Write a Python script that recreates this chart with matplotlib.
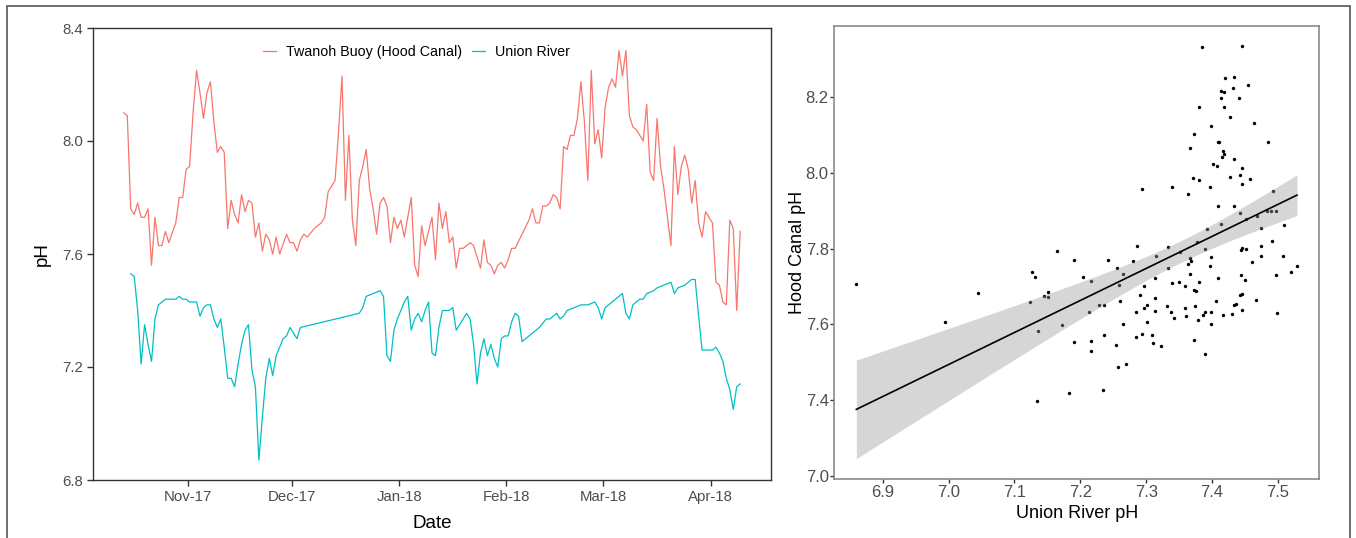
import numpy as np
import pandas as pd
import matplotlib
matplotlib.use("Agg")
import matplotlib.pyplot as plt
import matplotlib.dates as mdates
from matplotlib.patches import Rectangle

plt.rcParams['font.family'] = ['Liberation Sans', 'DejaVu Sans']

# --- time series (days after 2017-10-13 12:00) ---
start = pd.Timestamp("2017-10-13 12:00")

red_day = [0, 1, 2, 3, 4, 5, 6, 7, 8, 9, 10, 11, 12, 13, 15, 16, 17, 18, 19, 20,
           21, 22, 23, 24, 25, 26, 27, 28, 29, 30, 31, 32, 33, 34, 35, 36, 37, 38, 39, 40,
           41, 42, 43, 44, 45, 47, 48, 49, 50, 51, 52, 53, 55, 57, 58, 59, 61, 62, 63, 64,
           65, 66, 67, 68, 69, 70, 71, 72, 73, 74, 75, 76, 77, 78, 79, 80, 81, 83, 84, 85,
           86, 87, 89, 90, 91, 92, 93, 94, 95, 96, 97, 98, 100, 101, 103, 104, 105, 106, 107, 108,
           109, 110, 111, 112, 113, 115, 117, 118, 119, 120, 121, 122, 123, 124, 125, 126, 127, 128, 129, 130,
           131, 132, 133, 134, 135, 136, 137, 138, 139, 140, 141, 142, 143, 144, 145, 146, 147, 148, 149, 150,
           151, 152, 153, 154, 155, 156, 157, 158, 159, 160, 161, 162, 163, 164, 165, 166, 167, 168, 169, 170,
           171, 172, 173, 174, 175, 176, 177, 178]
red_ph = [8.10, 8.09, 7.76, 7.74, 7.78, 7.73, 7.73, 7.76, 7.56, 7.73, 7.63, 7.63, 7.68, 7.64, 7.71, 7.80, 7.80, 7.90, 7.91, 8.10,
          8.25, 8.17, 8.08, 8.17, 8.21, 8.07, 7.96, 7.98, 7.96, 7.69, 7.79, 7.74, 7.71, 7.81, 7.75, 7.79, 7.78, 7.66, 7.71, 7.61,
          7.67, 7.65, 7.60, 7.66, 7.60, 7.67, 7.64, 7.64, 7.61, 7.65, 7.67, 7.66, 7.69, 7.71, 7.73, 7.82, 7.86, 8.03, 8.23, 7.79,
          8.02, 7.72, 7.63, 7.86, 7.91, 7.97, 7.83, 7.76, 7.67, 7.78, 7.80, 7.77, 7.64, 7.73, 7.69, 7.72, 7.66, 7.80, 7.56, 7.52,
          7.70, 7.63, 7.73, 7.58, 7.78, 7.69, 7.75, 7.64, 7.66, 7.55, 7.62, 7.62, 7.64, 7.63, 7.55, 7.65, 7.57, 7.56, 7.53, 7.56,
          7.57, 7.55, 7.58, 7.62, 7.62, 7.67, 7.72, 7.76, 7.71, 7.71, 7.77, 7.77, 7.78, 7.81, 7.80, 7.76, 7.98, 7.97, 8.02, 8.02,
          8.08, 8.21, 8.07, 7.86, 8.25, 7.99, 8.04, 7.94, 8.12, 8.19, 8.22, 8.19, 8.32, 8.23, 8.32, 8.09, 8.05, 8.04, 8.02, 8.00,
          8.13, 7.89, 7.86, 8.08, 7.91, 7.83, 7.73, 7.63, 7.98, 7.81, 7.91, 7.95, 7.90, 7.78, 7.86, 7.71, 7.66, 7.75, 7.73, 7.71,
          7.50, 7.49, 7.43, 7.42, 7.72, 7.69, 7.40, 7.68]

blue_day = [2, 3, 4, 5, 6, 7, 8, 9, 10, 11, 12, 13, 14, 15, 16, 17, 18, 19, 20, 21,
            22, 23, 24, 25, 26, 27, 28, 29, 30, 31, 32, 33, 34, 35, 36, 37, 38, 39, 40, 41,
            42, 43, 44, 45, 46, 47, 48, 49, 50, 51, 68, 69, 70, 72, 74, 75, 76, 77, 78, 79,
            80, 81, 82, 83, 84, 85, 86, 87, 88, 89, 90, 91, 92, 93, 94, 95, 96, 97, 98, 99,
            100, 101, 102, 103, 104, 105, 106, 107, 108, 109, 110, 111, 112, 113, 114, 115, 116, 118, 120, 122,
            123, 124, 125, 126, 127, 128, 130, 132, 134, 136, 137, 138, 139, 141, 143, 144, 145, 146, 147, 149,
            150, 151, 153, 154, 156, 158, 159, 160, 162, 163, 164, 165, 166, 167, 168, 169, 170, 171, 172, 173,
            174, 175, 176, 177, 178]
blue_ph = [7.53, 7.52, 7.40, 7.21, 7.35, 7.28, 7.22, 7.37, 7.42, 7.43, 7.44, 7.44, 7.44, 7.44, 7.45, 7.44, 7.44, 7.43, 7.43, 7.43,
           7.38, 7.41, 7.42, 7.42, 7.37, 7.34, 7.37, 7.27, 7.16, 7.16, 7.13, 7.21, 7.28, 7.33, 7.35, 7.19, 7.13, 6.87, 7.02, 7.16,
           7.23, 7.17, 7.24, 7.27, 7.30, 7.31, 7.34, 7.32, 7.30, 7.34, 7.39, 7.41, 7.45, 7.46, 7.47, 7.45, 7.24, 7.22, 7.33, 7.37,
           7.40, 7.43, 7.45, 7.33, 7.37, 7.39, 7.36, 7.40, 7.43, 7.25, 7.24, 7.34, 7.40, 7.40, 7.40, 7.41, 7.33, 7.35, 7.37, 7.39,
           7.37, 7.28, 7.14, 7.25, 7.30, 7.24, 7.28, 7.23, 7.20, 7.30, 7.31, 7.31, 7.36, 7.39, 7.38, 7.29, 7.30, 7.32, 7.34, 7.37,
           7.37, 7.38, 7.39, 7.37, 7.38, 7.40, 7.41, 7.42, 7.42, 7.43, 7.41, 7.37, 7.41, 7.43, 7.45, 7.46, 7.39, 7.37, 7.42, 7.44,
           7.44, 7.46, 7.47, 7.48, 7.49, 7.50, 7.46, 7.48, 7.49, 7.50, 7.51, 7.51, 7.38, 7.26, 7.26, 7.26, 7.26, 7.27, 7.25, 7.22,
           7.16, 7.12, 7.05, 7.13, 7.14]

# --- scatter: Union River pH vs Hood Canal pH ---
union_ph = [7.385, 7.445, 7.420, 7.433, 7.413, 7.418, 7.432, 7.454, 7.414, 7.441,
            7.380, 7.418, 7.427, 7.464, 7.398, 7.373, 7.409, 7.411, 7.485, 7.367,
            7.417, 7.418, 7.415, 7.434, 7.402, 7.407, 7.445, 7.443, 7.427, 7.458,
            7.371, 7.381, 7.397, 7.446, 7.293, 7.339, 7.364, 7.409, 7.433, 7.493,
            7.443, 7.452, 7.392, 7.413, 7.377, 7.483, 7.489, 7.497, 7.474, 7.509,
            7.468, 7.390, 7.333, 7.286, 7.352, 7.315, 7.366, 7.368, 7.364, 7.399,
            7.445, 7.444, 7.451, 7.475, 7.491, 7.460, 7.474, 7.508, 7.529, 7.520,
            7.497, 7.499, 7.467, 7.444, 7.450, 7.443, 7.445, 7.436, 7.434, 7.446,
            7.430, 7.417, 7.398, 7.399, 7.406, 7.409, 7.397, 7.389, 7.386, 7.378,
            7.374, 7.373, 7.376, 7.381, 7.367, 7.359, 7.350, 7.361, 7.359, 7.373,
            7.390, 7.342, 7.339, 7.333, 7.337, 7.332, 7.314, 7.313, 7.314, 7.301,
            7.296, 7.302, 7.291, 7.296, 7.284, 7.309, 7.310, 7.322, 7.294, 7.284,
            7.265, 7.260, 7.259, 7.265, 7.256, 7.242, 7.236, 7.228, 7.236, 7.255,
            7.216, 7.217, 7.191, 7.216, 7.213, 7.204, 7.191, 7.172, 7.280, 7.183,
            7.234, 7.257, 7.270, 7.164, 7.044, 7.126, 7.132, 7.151, 7.145, 7.151,
            7.123, 7.136, 6.860, 6.995, 7.134]
canal_ph = [8.330, 8.333, 8.250, 8.253, 8.215, 8.212, 8.224, 8.231, 8.197, 8.198,
            8.172, 8.172, 8.147, 8.131, 8.124, 8.101, 8.082, 8.081, 8.080, 8.065,
            8.058, 8.048, 8.042, 8.037, 8.024, 8.018, 8.013, 7.995, 7.989, 7.983,
            7.987, 7.980, 7.963, 7.970, 7.957, 7.963, 7.945, 7.911, 7.912, 7.952,
            7.893, 7.878, 7.851, 7.864, 7.816, 7.900, 7.900, 7.900, 7.855, 7.861,
            7.886, 7.798, 7.803, 7.807, 7.792, 7.781, 7.775, 7.766, 7.760, 7.779,
            7.801, 7.797, 7.798, 7.808, 7.820, 7.764, 7.781, 7.781, 7.755, 7.737,
            7.729, 7.630, 7.665, 7.731, 7.716, 7.678, 7.680, 7.654, 7.651, 7.637,
            7.628, 7.624, 7.632, 7.602, 7.661, 7.722, 7.753, 7.632, 7.626, 7.612,
            7.649, 7.691, 7.688, 7.713, 7.733, 7.700, 7.712, 7.621, 7.643, 7.560,
            7.522, 7.617, 7.709, 7.750, 7.634, 7.649, 7.722, 7.670, 7.636, 7.652,
            7.643, 7.606, 7.678, 7.700, 7.633, 7.573, 7.551, 7.544, 7.575, 7.567,
            7.602, 7.663, 7.704, 7.733, 7.748, 7.771, 7.652, 7.650, 7.573, 7.545,
            7.557, 7.529, 7.553, 7.715, 7.634, 7.726, 7.770, 7.599, 7.766, 7.418,
            7.428, 7.488, 7.497, 7.794, 7.683, 7.737, 7.725, 7.686, 7.676, 7.672,
            7.659, 7.582, 7.706, 7.606, 7.399]

left_yticks = [6.8, 7.2, 7.6, 8.0, 8.4]
right_xticks = [6.9, 7.0, 7.1, 7.2, 7.3, 7.4, 7.5]
right_yticks = [7.2, 7.4, 7.6, 7.8, 8.0, 8.2]
right_ylabels = ["7.0", "7.4", "7.6", "7.8", "8.0", "8.2"]

W, H = 1356, 538
fig = plt.figure(figsize=(W / 100, H / 100), dpi=100)

# outer frame
fig.patches.append(Rectangle((7 / W, -0.02), 1343 / W, 1.02 - 6 / H, transform=fig.transFigure,
                             fill=False, edgecolor="#555555", linewidth=1.2))

# ---------------- left panel: time series ----------------
ax1 = fig.add_axes([93 / W, 1 - 480 / H, 678 / W, 452 / H])
red_dates = start + pd.to_timedelta(red_day, unit="D")
blue_dates = start + pd.to_timedelta(blue_day, unit="D")
ax1.plot(red_dates, red_ph, color="#F8766D", lw=0.9, label="Twanoh Buoy (Hood Canal)")
ax1.plot(blue_dates, blue_ph, color="#00BFC4", lw=0.9, label="Union River")

span = max(red_day) - min(red_day)
ax1.set_xlim(start + pd.Timedelta(days=min(red_day) - 0.05 * span),
             start + pd.Timedelta(days=max(red_day) + 0.05 * span))
ax1.set_ylim(6.8, 8.4)
ax1.set_yticks(left_yticks)
ax1.set_yticklabels([f"{v:.1f}" for v in left_yticks])
ax1.xaxis.set_major_locator(mdates.MonthLocator())
ax1.xaxis.set_major_formatter(mdates.DateFormatter("%b-%y"))
for s in ax1.spines.values():
    s.set_color("#333333")
    s.set_linewidth(1.0)
ax1.tick_params(direction="out", length=4, width=1, color="#333333",
                labelcolor="#4d4d4d", labelsize=10.8, pad=3)
ax1.set_xlabel("Date", fontsize=13.5, labelpad=8)
ax1.set_ylabel("pH", fontsize=13.5, labelpad=8)
ax1.legend(loc="center", bbox_to_anchor=(0.477, 0.947), ncol=2, frameon=False,
           fontsize=10.3, handlelength=0.9, columnspacing=0.7, handletextpad=0.7)

# ---------------- right panel: scatter + lm ----------------
ax2 = fig.add_axes([834.3 / W, 1 - 479.3 / H, 484.7 / W, 453.6 / H])
ux = np.array(union_ph)
cy = np.array(canal_ph)
ax2.scatter(ux, cy, s=6, color="black", linewidths=0, zorder=2)

# linear fit with 95% confidence band (like geom_smooth(method="lm"))
n = len(ux)
slope, intercept = np.polyfit(ux, cy, 1)
resid = cy - (intercept + slope * ux)
s_err = np.sqrt(np.sum(resid ** 2) / (n - 2))
sxx = np.sum((ux - ux.mean()) ** 2)
xf = np.linspace(ux.min(), ux.max(), 100)
yf = intercept + slope * xf
half = 1.976 * s_err * np.sqrt(1 / n + (xf - ux.mean()) ** 2 / sxx)
ax2.fill_between(xf, yf - half, yf + half, color="#999999", alpha=0.4, linewidth=0, zorder=3)
ax2.plot(xf, yf, color="black", lw=1.2, zorder=4)

xr = ux.max() - ux.min()
ax2.set_xlim(ux.min() - 0.05 * xr, ux.max() + 0.05 * xr)
ylo = min(cy.min(), (yf - half).min())
yhi = max(cy.max(), (yf + half).max())
ax2.set_ylim(ylo - 0.05 * (yhi - ylo), yhi + 0.05 * (yhi - ylo))
ax2.set_xticks(right_xticks)
ax2.set_xticklabels([f"{v:.1f}" for v in right_xticks])
ax2.set_yticks(right_yticks)
ax2.set_yticklabels(right_ylabels)
for s in ax2.spines.values():
    s.set_color("#8a8a8a")
    s.set_linewidth(1.2)
ax2.tick_params(direction="out", length=3, width=1, color="#333333",
                labelcolor="#4d4d4d", labelsize=12, pad=1)
ax2.set_xlabel("Union River pH", fontsize=13, labelpad=4)
ax2.set_ylabel("Hood Canal pH", fontsize=13, labelpad=0)

fig.savefig("out.png", dpi=100)
